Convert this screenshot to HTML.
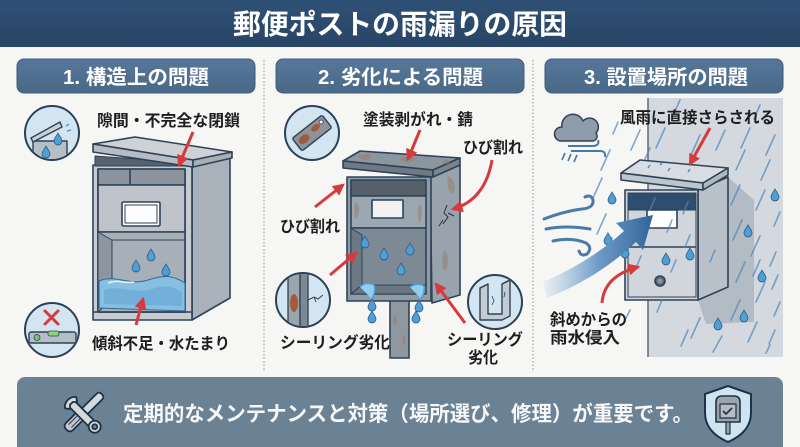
<!DOCTYPE html>
<html><head><meta charset="utf-8">
<style>
html,body{margin:0;padding:0;background:#f6f6f4;}
svg{display:block}
.t{font-family:"Liberation Sans","Noto Sans CJK JP",sans-serif;font-weight:700}
.lb{font-family:"Liberation Sans","Noto Sans CJK JP",sans-serif;font-weight:700;font-size:16px;fill:#1e1e1e}
</style></head>
<body>
<svg width="800" height="447" viewBox="0 0 800 447" xmlns="http://www.w3.org/2000/svg">
<defs>
  <marker id="ah" viewBox="0 0 10 10" refX="8" refY="5" markerWidth="4" markerHeight="4" orient="auto"><path d="M0,0 L10,5 L0,10 z" fill="#d63a3c"/></marker>
  <path id="drop" d="M0 -7 C1.5 -4 4 -1.5 4 1 A4 4 0 0 1 -4 1 C-4 -1.5 -1.5 -4 0 -7Z" fill="#4d9fd6" stroke="#2b5b85" stroke-width="0.8"/>
  <linearGradient id="ba" x1="543" y1="0" x2="652" y2="0" gradientUnits="userSpaceOnUse">
    <stop offset="0" stop-color="#8fb5d8" stop-opacity="0.1"/>
    <stop offset="0.5" stop-color="#6e9cc8"/>
    <stop offset="1" stop-color="#33659a"/>
  </linearGradient>
  <linearGradient id="hd" x1="0" y1="0" x2="0" y2="1">
    <stop offset="0" stop-color="#2f5075"/><stop offset="1" stop-color="#284566"/>
  </linearGradient>
  <linearGradient id="sb" x1="0" y1="0" x2="0" y2="1">
    <stop offset="0" stop-color="#57779a"/><stop offset="1" stop-color="#4a6988"/>
  </linearGradient>
  <clipPath id="c1"><circle cx="52" cy="133" r="26"/></clipPath>
  <clipPath id="c2"><circle cx="52" cy="330" r="26"/></clipPath>
  <clipPath id="c3"><circle cx="312" cy="133" r="26"/></clipPath>
  <clipPath id="c4"><circle cx="303" cy="300" r="26"/></clipPath>
  <clipPath id="c5"><circle cx="495" cy="302" r="26"/></clipPath>
</defs>

<rect width="800" height="447" fill="#f6f6f4"/>
<!-- header -->
<rect x="0" y="0" width="800" height="47" fill="url(#hd)"/>
<text class="t" x="233" y="34" font-size="28" fill="#ffffff" textLength="334" lengthAdjust="spacingAndGlyphs">郵便ポストの雨漏りの原因</text>

<!-- section headers -->
<rect x="17" y="59" width="238" height="34" rx="7" fill="url(#sb)" stroke="#3f5d7b" stroke-width="1"/>
<rect x="276" y="59" width="248" height="34" rx="7" fill="url(#sb)" stroke="#3f5d7b" stroke-width="1"/>
<rect x="545" y="59" width="238" height="34" rx="7" fill="url(#sb)" stroke="#3f5d7b" stroke-width="1"/>
<text class="t" x="63" y="84" font-size="20" fill="#fff" textLength="146" lengthAdjust="spacingAndGlyphs">1. 構造上の問題</text>
<text class="t" x="318" y="84" font-size="20" fill="#fff" textLength="165" lengthAdjust="spacingAndGlyphs">2. 劣化による問題</text>
<text class="t" x="584" y="84" font-size="20" fill="#fff" textLength="164" lengthAdjust="spacingAndGlyphs">3. 設置場所の問題</text>

<!-- dividers -->
<line x1="264" y1="60" x2="264" y2="372" stroke="#a3a7ab" stroke-width="1.2" stroke-dasharray="1.5 2"/>
<line x1="533" y1="60" x2="533" y2="372" stroke="#a3a7ab" stroke-width="1.2" stroke-dasharray="1.5 2"/>

<!-- ============ COLUMN 1 ============ -->
<g stroke="#2f4257" stroke-width="1.6" stroke-linejoin="round">
  <polygon points="192,165 230,155 230,298 192,320" fill="#a9b2ba"/>
  <rect x="93" y="165" width="99" height="155" fill="#c6ccd2"/>
  <rect x="98" y="169" width="87" height="143" fill="#9ea7b0"/>
  <rect x="98" y="169" width="87" height="16" fill="#8b949d"/>
  <line x1="130" y1="169" x2="130" y2="185"/>
  <rect x="98" y="185" width="87" height="47" fill="#bec4ca"/>
  <rect x="122" y="202" width="38" height="24" rx="1.5" fill="#fdfdfd"/>
  <rect x="125" y="205" width="32" height="18" fill="none" stroke-width="1"/>
  <rect x="98" y="232" width="87" height="80" fill="#a7b0b8"/>
  <polygon points="98,232 112,240 112,300 98,312" fill="#8d96a0" stroke-width="1"/>
  <line x1="112" y1="240" x2="185" y2="240" stroke-width="1"/>
  <polygon points="95,156 192,163 228,154 228,158 192,166 95,166" fill="#56636f" stroke-width="1"/>
  <polygon points="93,144 135,137 232,152 193,160" fill="#cdd2d7"/>
  <polygon points="93,144 193,160 193,167 93,152" fill="#b5bcc3"/>
  <polygon points="193,160 232,152 232,158 193,167" fill="#a6aeb6"/>
</g>
<path d="M99 281 C115 274 130 286 148 280 S174 276 185 283 L185 311 L99 308 Z" fill="#86bfe0" stroke="#2f6a98" stroke-width="1"/>
<path d="M104 290 C120 285 135 294 152 289 S172 287 182 292 L182 306 L104 304 Z" fill="#6aaad6" opacity="0.7"/>
<path d="M108 283 C118 279 126 284 134 282" stroke="#e6f4fb" stroke-width="1.5" fill="none"/>
<use href="#drop" x="136" y="267"/>
<use href="#drop" x="151" y="256"/>
<use href="#drop" x="166" y="271"/>
<line x1="93" y1="312" x2="192" y2="312" stroke="#2f4257" stroke-width="1.4"/>

<text class="lb" x="97" y="126" textLength="143" lengthAdjust="spacingAndGlyphs">隙間・不完全な閉鎖</text>
<line x1="193" y1="132" x2="179" y2="165" stroke="#d63a3c" stroke-width="3" marker-end="url(#ah)"/>
<text class="lb" x="92" y="349" textLength="138" lengthAdjust="spacingAndGlyphs">傾斜不足・水たまり</text>
<line x1="136" y1="325" x2="143" y2="299" stroke="#d63a3c" stroke-width="3" marker-end="url(#ah)"/>

<circle cx="52" cy="133" r="27" fill="#d3e5f0" stroke="#2b4157" stroke-width="2"/>
<g clip-path="url(#c1)" stroke="#2f4257" stroke-width="1.4" stroke-linejoin="round">
  <rect x="33" y="141" width="34" height="22" fill="#b7bfc6"/>
  <polygon points="31,138 60,122 62,127 33,142" fill="#cbd0d5"/>
  <use href="#drop" x="58" y="140" stroke-width="0.8"/>
  <use href="#drop" x="46" y="153" stroke-width="0.8"/>
  <path d="M66 126 l3 -2 M67 131 l4 -1" stroke="#4d9fd6" stroke-width="1.5"/>
</g>
<circle cx="52" cy="330" r="27" fill="#d3e5f0" stroke="#2b4157" stroke-width="2"/>
<g clip-path="url(#c2)">
  <path d="M45 311 L58 324 M58 311 L45 324" stroke="#d63a3c" stroke-width="3" stroke-linecap="round"/>
  <rect x="29" y="332" width="47" height="11" rx="2" fill="#b5bdc4" stroke="#2f4257" stroke-width="1.4"/>
  <rect x="48" y="331" width="11" height="5" rx="2" fill="#8fd17a" stroke="#2f4257" stroke-width="0.8"/>
  <circle cx="37" cy="337.5" r="3" fill="#7cc070" stroke="#2f4257" stroke-width="0.8"/>
</g>

<!-- ============ COLUMN 2 ============ -->
<g stroke="#2f4257" stroke-width="1.6" stroke-linejoin="round">
  <rect x="390" y="298" width="19" height="60" fill="#8f989f"/>
  <polygon points="430,177 460,165 460,295 432,303" fill="#98a3ad"/>
  <rect x="347" y="177" width="84" height="124" fill="#8f9ba6"/>
  <rect x="351" y="180" width="75" height="16" fill="#55606a"/>
  <rect x="351" y="196" width="75" height="32" fill="#9ba7b1"/>
  <rect x="372" y="200" width="31" height="18" fill="#f2f2f2"/>
  <rect x="351" y="228" width="75" height="66" fill="#7d8a95"/>
  <polygon points="351,228 362,235 362,285 351,294" fill="#6c7884" stroke-width="1"/>
  <polygon points="351,294 362,285 426,285 426,294" fill="#6a7782" stroke-width="1"/>
  <polygon points="343,161 360,151 460,158 433,170" fill="#8c969f"/>
  <polygon points="343,161 433,170 433,177 343,168" fill="#6e7983"/>
  <polygon points="433,170 460,158 460,165 433,177" fill="#7a858f"/>
</g>
<g fill="#9a7c66" opacity="0.5">
  <path d="M358 156 q6 -4 12 -1 q3 3 -3 5 q-6 1 -9 -4Z"/>
  <path d="M400 158 q8 -3 15 0 q2 3 -5 4 q-8 1 -10 -4Z"/>
  <path d="M442 161 q4 -2 8 0 q0 3 -4 3Z"/>
  <path d="M355 202 q5 2 4 10 q-2 9 -4 6 q-2 -8 0 -16Z"/>
  <path d="M419 204 q4 3 3 10 q-1 10 -3 8 q-3 -9 0 -18Z"/>
  <path d="M448 176 q6 3 7 12 q-1 8 -5 4 q-4 -7 -2 -16Z"/>
  <path d="M444 250 q5 4 4 14 q-2 10 -5 5 q-2 -10 1 -19Z"/>
  <path d="M394 314 q4 4 3 10 q-3 4 -4 -2Z"/>
  <path d="M403 334 q4 4 2 10 q-3 2 -3 -4Z"/>
</g>
<path d="M447 205 l-3 8 l4 4 l-5 7 m5 -11 l6 3 m-11 4 l-4 6" stroke="#2b2f33" stroke-width="1" fill="none"/>
<path d="M360 287 q6 -6 14 -2 q2 6 -2 14 M410 287 q8 -5 14 -1 q1 6 -3 13" fill="#8fd0ee" stroke="#4d9fd6" stroke-width="1.5"/>
<use href="#drop" x="365" y="243"/>
<use href="#drop" x="384" y="255"/>
<use href="#drop" x="410" y="250"/>
<use href="#drop" x="401" y="270"/>
<use href="#drop" x="372" y="306"/>
<use href="#drop" x="419" y="307"/>
<use href="#drop" x="416" y="318"/>
<use href="#drop" x="372" y="318"/>

<text class="lb" x="363" y="125" font-size="15.5" textLength="110" lengthAdjust="spacingAndGlyphs">塗装剥がれ・錆</text>
<line x1="420" y1="130" x2="408" y2="159" stroke="#d63a3c" stroke-width="3" marker-end="url(#ah)"/>
<text class="lb" x="463" y="153" font-size="15.5" textLength="60" lengthAdjust="spacingAndGlyphs">ひび割れ</text>
<path d="M492 160 Q485 200 453 209" fill="none" stroke="#d63a3c" stroke-width="3" marker-end="url(#ah)"/>
<text class="lb" x="280" y="232" font-size="15.5" textLength="60" lengthAdjust="spacingAndGlyphs">ひび割れ</text>
<line x1="315" y1="207" x2="343" y2="185" stroke="#d63a3c" stroke-width="3" marker-end="url(#ah)"/>
<line x1="330" y1="275" x2="356" y2="253" stroke="#d63a3c" stroke-width="3" marker-end="url(#ah)"/>
<text class="lb" x="280" y="348" font-size="15.5" textLength="110" lengthAdjust="spacingAndGlyphs">シーリング劣化</text>
<text class="lb" x="447" y="345" font-size="15.5" textLength="76" lengthAdjust="spacingAndGlyphs">シーリング</text>
<text class="lb" x="468" y="363" font-size="15.5" textLength="30" lengthAdjust="spacingAndGlyphs">劣化</text>
<line x1="465" y1="323" x2="436" y2="284" stroke="#d63a3c" stroke-width="3" marker-end="url(#ah)"/>

<circle cx="312" cy="133" r="27" fill="#d3e5f0" stroke="#2b4157" stroke-width="2"/>
<g clip-path="url(#c3)">
  <g transform="rotate(-38 312 133)">
    <rect x="293" y="125" width="38" height="16" rx="2" fill="#8f9296" stroke="#2f4257" stroke-width="1.4"/>
    <ellipse cx="302" cy="133" rx="6" ry="4" fill="#9a5c3e"/>
    <ellipse cx="318" cy="131" rx="5" ry="3" fill="#9a5c3e"/>
    <circle cx="326" cy="130" r="2" fill="#eee" stroke="#2f4257" stroke-width="0.8"/>
  </g>
</g>
<circle cx="303" cy="300" r="27" fill="#d3e5f0" stroke="#2b4157" stroke-width="2"/>
<g clip-path="url(#c4)" stroke="#2f4257" stroke-width="1.3">
  <rect x="288" y="270" width="12" height="60" fill="#9aa5ae"/>
  <rect x="300" y="270" width="8" height="60" fill="#7c8892"/>
  <ellipse cx="294" cy="303" rx="4" ry="9" fill="#a35a38" stroke="none"/>
  <path d="M308 300 l6 -3 l4 2 l5 -4 M314 297 l2 5" fill="none" stroke-width="1"/>
</g>
<circle cx="495" cy="302" r="27" fill="#d3e5f0" stroke="#2b4157" stroke-width="2"/>
<g clip-path="url(#c5)" stroke="#2f4257" stroke-width="1.4" stroke-linejoin="round">
  <path d="M480 288 l8 -4 l0 30 l14 0 l0 -30 l8 -4 l0 36 l-8 4 l-22 0 Z" fill="#c3ccd3"/>
  <path d="M488 284 l-8 4 M502 284 l8 -4" fill="none"/>
  <path d="M492 296 l2 5 l-2 4 M505 292 l-1 5" fill="none" stroke-width="0.8"/>
</g>

<!-- ============ COLUMN 3 ============ -->
<rect x="648" y="98" width="135" height="259" fill="#d3d9df"/>
<line x1="648" y1="98" x2="648" y2="357" stroke="#5a6a78" stroke-width="1.5"/>
<polygon points="728,177 754,200 754,322 706,324 698,300 728,287" fill="#b3bcc5"/>

<g stroke="#2f4257" stroke-width="1.5" stroke-linejoin="round">
  <path d="M561 141 A7 7 0 0 1 562 127 A11 11 0 0 1 583 121 A8 8 0 0 1 596 133 A5 5 0 0 1 593 141 Z" fill="#8e9cab"/>
  <path d="M568 146 L592 146 q8 0 6 -6 M571 151 L600 151 q6 0 5 6" fill="none" stroke="#4a78a6" stroke-width="2"/>
  <path d="M565 153 l-3 7 M571 154 l-3 7 M577 155 l-3 7" fill="none" stroke="#4a78a6" stroke-width="1.6"/>
</g>

<g stroke="#2f4257" stroke-width="1.6" stroke-linejoin="round">
  <polygon points="698,190 728,177 728,287 698,300" fill="#b9c2ca"/>
  <rect x="625" y="190" width="73" height="110" fill="#d0d6db"/>
  <rect x="628" y="193" width="68" height="17" fill="#2d4e6e" stroke-width="1"/>
  <rect x="647" y="210" width="30" height="18" fill="#ffffff"/>
  <line x1="628" y1="247" x2="696" y2="247"/>
  <rect x="628" y="193" width="68" height="104" fill="none" stroke-width="1"/>
  <polygon points="621,173 640,160 728,168 703,183" fill="#d7dde2"/>
  <polygon points="621,173 703,183 703,190 621,180" fill="#bec6cd"/>
  <polygon points="703,183 728,168 728,175 703,190" fill="#aeb8c0"/>
  <circle cx="660" cy="281" r="5" fill="#5d6873"/>
  <circle cx="660" cy="281" r="2.5" fill="#8a96a0" stroke="none"/>
</g>
<path d="M648 168 l2 -3 M668 171 l2 -3 M688 172 l2 -3 M660 165 l2 -2" stroke="#4f86bb" stroke-width="1.4"/>

<g stroke="#4f86bb" stroke-width="1.6" stroke-linecap="round" opacity="0.7">
  <path d="M640 130 l-9 20 M665 128 l-9 20 M700 135 l-9 20 M725 130 l-9 20 M750 128 l-9 20 M775 135 l-9 20
           M610 150 l-9 20 M650 148 l-5 11 M745 150 l-9 20 M770 160 l-9 20 M760 105 l-6 14 M680 100 l-5 11
           M602 178 l-9 20 M740 185 l-9 20 M765 190 l-9 20 M780 212 l-6 14
           M606 214 l-9 20 M742 220 l-9 20 M760 236 l-9 20 M776 252 l-6 14
           M612 238 l-9 20 M745 262 l-9 20 M765 282 l-9 20 M780 302 l-6 14
           M740 300 l-9 20 M757 322 l-9 20 M775 330 l-6 14 M700 318 l-9 20 M722 336 l-9 16
           M655 198 l-5 12 M672 220 l-5 12 M688 202 l-5 12 M690 235 l-5 12 M641 256 l-5 12 M676 260 l-5 12 M662 300 l-5 12 M618 122 l-5 12 M715 250 l-5 12
           M760 260 l-7 16 M778 275 l-6 14 M770 345 l-4 8 M688 330 l-7 16 M630 310 l-5 10"/>
</g>
<use href="#drop" x="612" y="199"/>
<use href="#drop" x="608" y="240"/>
<use href="#drop" x="625" y="253"/>
<use href="#drop" x="666" y="260"/>
<use href="#drop" x="690" y="255"/>
<use href="#drop" x="748" y="232"/>
<use href="#drop" x="762" y="277"/>
<use href="#drop" x="744" y="317"/>
<use href="#drop" x="718" y="325"/>
<use href="#drop" x="775" y="196"/>

<g stroke="#4a7aa8" stroke-width="3" fill="none" stroke-linecap="round">
  <path d="M544 219 Q565 211 582 209 q12 -1 11 -9 q-2 -6 -8 -3"/>
  <path d="M546 229 Q566 225 590 229"/>
  <path d="M553 241 Q572 237 586 243 q7 5 1 11 q-6 3 -8 -3"/>
</g>
<path d="M543 282 Q590 262 624 231 L616 223 L653 215 L643 250 L636 242 Q598 278 547 298 Z" fill="url(#ba)"/>

<text class="lb" x="620" y="123" font-size="15.5" textLength="155" lengthAdjust="spacingAndGlyphs">風雨に直接さらされる</text>
<line x1="710" y1="128" x2="690" y2="164" stroke="#d63a3c" stroke-width="3" marker-end="url(#ah)"/>
<path d="M602 303 Q604 276 638 267" fill="none" stroke="#d63a3c" stroke-width="3" marker-end="url(#ah)"/>
<text class="lb" x="550" y="325" font-size="15.5" textLength="77" lengthAdjust="spacingAndGlyphs">斜めからの</text>
<text class="lb" x="550" y="343" font-size="15.5" textLength="70" lengthAdjust="spacingAndGlyphs">雨水侵入</text>

<!-- ============ BOTTOM BAR ============ -->
<rect x="17" y="377" width="766" height="80" rx="8" fill="#6b8294"/>
<text class="t" x="123" y="421" font-size="21" fill="#f6f8fa" textLength="570" lengthAdjust="spacingAndGlyphs">定期的なメンテナンスと対策（場所選び、修理）が重要です。</text>

<g stroke="#1f3347" stroke-width="1.8" stroke-linejoin="round">
  <g transform="rotate(45 82 414)">
    <rect x="78" y="386" width="8" height="26" rx="3" fill="#d5dadd"/>
    <rect x="77" y="412" width="10" height="24" rx="4" fill="#c3c9ce"/>
    <path d="M80 417 v14 M84 417 v14" stroke-width="1"/>
  </g>
  <g transform="rotate(-45 82 414)">
    <rect x="78" y="396" width="8" height="34" fill="#d5dadd"/>
    <path d="M74 398 a10 10 0 0 1 16 0 l-3 4 l-3 -3 h-4 l-3 3 Z" fill="#d5dadd"/>
    <circle cx="82" cy="432" r="6" fill="#d5dadd"/>
    <circle cx="82" cy="432" r="2.5" fill="#6b8294"/>
  </g>
</g>

<g stroke="#1f3347" stroke-width="2" stroke-linejoin="round">
  <path d="M728 386 L751 394 L751 413 Q751 432 728 442 Q705 432 705 413 L705 394 Z" fill="#cfe4f1"/>
  <path d="M716 402 q0 -6 6 -6 h12 q6 0 6 6 v20 h-24 Z" fill="#9ba3ab" stroke-width="1.6"/>
  <rect x="720" y="404" width="16" height="14" fill="#b5bcc3" stroke-width="1.2"/>
  <path d="M723 411 l3 3 l6 -6" fill="none" stroke-width="1.6"/>
  <rect x="726" y="422" width="4" height="12" fill="#9ba3ab" stroke-width="1.2"/>
</g>
</svg>
</body></html>
